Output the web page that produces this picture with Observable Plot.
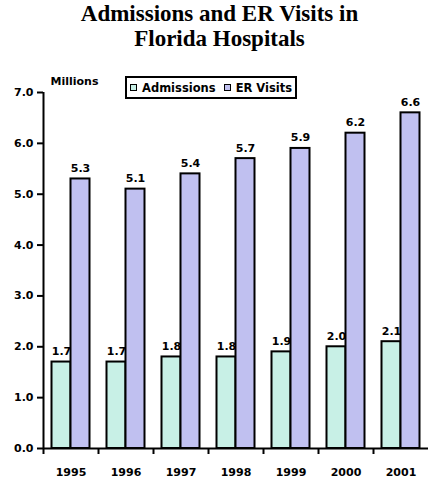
<!DOCTYPE html>
<html><head><meta charset="utf-8">
<script src="https://cdn.jsdelivr.net/npm/d3@7"></script>
<script src="https://cdn.jsdelivr.net/npm/@observablehq/plot@0.6"></script>
<style>
body{margin:0;background:#fff;}
#wrap{position:relative;width:428px;height:483px;overflow:hidden;}
#title{height:55px;box-sizing:border-box;padding-top:1px;padding-left:11px;font-family:"Liberation Serif","Times New Roman",serif;font-weight:bold;font-size:23px;line-height:25px;text-align:center;color:#000;}
#legend{position:absolute;left:125px;top:76px;width:172px;height:23px;box-sizing:border-box;border:2px solid #000;background:#fff;font-family:"DejaVu Sans",sans-serif;font-weight:bold;font-size:11.5px;display:flex;align-items:center;padding-left:3px;white-space:nowrap;}
#legend .item{display:flex;align-items:center;margin-right:8px;white-space:nowrap;}
#legend .sw{width:5px;height:5px;border:1.5px solid #000;margin-right:5px;flex:none;}
svg{display:block;}
</style></head>
<body>
<div id="wrap">
<div id="title">Admissions and ER Visits in<br>Florida Hospitals</div>
<div id="chart"></div>
<div id="legend"></div>
</div>
<script>
const years = ["1995","1996","1997","1998","1999","2000","2001"];
const admissions = [1.7,1.7,1.8,1.8,1.9,2.0,2.1];
const erVisits = [5.3,5.1,5.4,5.7,5.9,6.2,6.6];
const seriesNames = ["Admissions","ER Visits"];
const colors = ["#c8f0e6","#c0c0f0"];
const yTicks = [0,1,2,3,4,5,6,7];
const unitLabel = "Millions";

const admData = years.map((y,i)=>({year:y, series:seriesNames[0], value:admissions[i]}));
const erData = years.map((y,i)=>({year:y, series:seriesNames[1], value:erVisits[i]}));

const W = 428, H = 428, mL = 43, mR = 0;
const step = (W - mL - mR) / years.length;
const barW = 19;
const outer = (step - 2*barW)/2;
const fmt = d3.format(".1f");
const lbl = {fontWeight:"bold", fontSize:11};

const chart = Plot.plot({
  width: W, height: H,
  marginTop: 37, marginBottom: 35, marginLeft: mL, marginRight: mR,
  style: {fontFamily: "'DejaVu Sans', sans-serif", background: "#fff", overflow: "visible"},
  x: {type: "band", domain: years, padding: 0},
  y: {domain: [0, 7]},
  color: {domain: seriesNames, range: colors},
  marks: [
    Plot.barY(admData, {x:"year", y:"value", fill:"series", stroke:"#000", strokeWidth:2, insetLeft: outer, insetRight: outer + barW}),
    Plot.text(admData, {x:"year", y:"value", text: d=>fmt(d.value), dx: -barW/2, dy: -7, lineAnchor:"bottom", ...lbl}),
    Plot.barY(erData, {x:"year", y:"value", fill:"series", stroke:"#000", strokeWidth:2, insetLeft: outer + barW, insetRight: outer}),
    Plot.text(erData, {x:"year", y:"value", text: d=>fmt(d.value), dx: barW/2, dy: -7, lineAnchor:"bottom", ...lbl}),
    Plot.ruleY([0], {strokeWidth: 2}),
    Plot.ruleX([years[0]], {dx: -step/2, strokeWidth: 2}),
    Plot.axisY({ticks: yTicks, tickFormat: fmt, tickSize: 6, tickPadding: 4, strokeWidth: 2, label: null, ...lbl}),
    Plot.axisX({tickSize: 6, tickFormat: () => "", dx: -step/2, strokeWidth: 2, label: null}),
    Plot.axisX({tickSize: 0, tickPadding: 20, label: null, ...lbl}),
    Plot.text([unitLabel], {frameAnchor: "top-left", dx: 7, dy: -8, textAnchor: "start", lineAnchor: "bottom", fontWeight: "bold", fontSize: 11})
  ]
});
document.getElementById("chart").appendChild(chart);

const lg = document.getElementById("legend");
seriesNames.forEach((s,i)=>{
  const it = document.createElement("span"); it.className="item";
  const sw = document.createElement("span"); sw.className="sw"; sw.style.background = colors[i];
  const tx = document.createElement("span"); tx.textContent = s;
  it.appendChild(sw); it.appendChild(tx); lg.appendChild(it);
});
</script>
</body></html>
